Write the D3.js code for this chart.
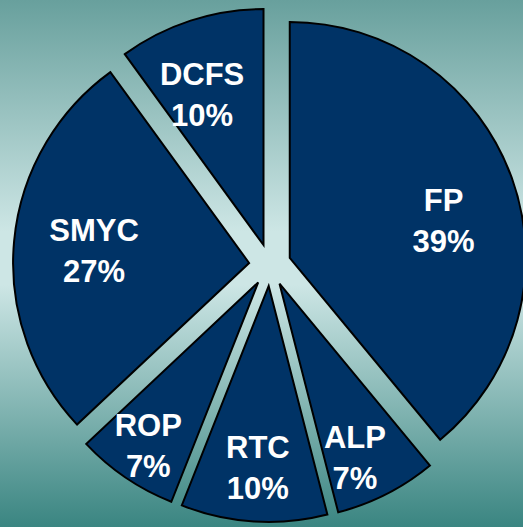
<!DOCTYPE html>
<html>
<head>
<meta charset="utf-8">
<script src="https://cdn.jsdelivr.net/npm/d3@7"></script>
<style>
  html, body { margin: 0; padding: 0; overflow: hidden; }
  svg { display: block; }
</style>
</head>
<body>
<div id="vis"></div>
<script>
// Dados do gráfico (ordem horária a partir das 12h)
const categories = ["FP", "ALP", "RTC", "ROP", "SMYC", "DCFS"];
const values = [39, 7, 10, 7, 27, 10];
const pctLabels = ["39%", "7%", "10%", "7%", "27%", "10%"];

// Tamanho
const width = 523, height = 527;
const cx = 270, cy = 265;
const radius = 236;
const explode = 21;
// posição dos rótulos por fatia: raio relativo e desvio angular (graus)
const labelRadius = [0.67, 0.805, 0.772, 0.835, 0.659, 0.686];
const labelShift = [6.3, 3.6, -0.2, -0.3, -1, -4.3];

const svg = d3.select("#vis")
  .append("svg")
  .attr("width", width)
  .attr("height", height);

// Fundo em gradiente
const defs = svg.append("defs");
const grad = defs.append("linearGradient")
  .attr("id", "bg")
  .attr("x1", 0).attr("y1", 0)
  .attr("x2", 0).attr("y2", 1);
grad.append("stop").attr("offset", "0%").attr("stop-color", "#68a09d");
grad.append("stop").attr("offset", "44%").attr("stop-color", "#cde6e5");
grad.append("stop").attr("offset", "54%").attr("stop-color", "#cde6e5");
grad.append("stop").attr("offset", "100%").attr("stop-color", "#3a8581");

svg.append("rect")
  .attr("width", width)
  .attr("height", height)
  .attr("fill", "url(#bg)");

const dataset = categories.map((c, i) => ({ category: c, value: values[i], pct: pctLabels[i], idx: i }));

const pie = d3.pie()
  .value(d => d.value)
  .sort(null);

const arc = d3.arc()
  .innerRadius(0)
  .outerRadius(radius);

const arcs = pie(dataset);

const g = svg.append("g")
  .attr("transform", `translate(${cx}, ${cy})`);

const slice = g.selectAll("g.slice")
  .data(arcs)
  .enter()
  .append("g")
  .attr("class", "slice")
  .attr("transform", d => {
    const a = (d.startAngle + d.endAngle) / 2;
    return `translate(${explode * Math.sin(a)}, ${-explode * Math.cos(a)})`;
  });

slice.append("path")
  .attr("d", arc)
  .attr("fill", "#003366")
  .attr("stroke", "#000")
  .attr("stroke-width", 2)
  .attr("stroke-linejoin", "miter");

const label = slice.append("text")
  .attr("transform", d => {
    const a = (d.startAngle + d.endAngle) / 2 + labelShift[d.data.idx] * Math.PI / 180;
    const r = radius * labelRadius[d.data.idx];
    return `translate(${r * Math.sin(a)}, ${-r * Math.cos(a)})`;
  })
  .attr("text-anchor", "middle")
  .attr("fill", "#fff")
  .attr("font-family", "'Liberation Sans', Arial, sans-serif")
  .attr("font-weight", "bold")
  .attr("font-size", 31);

label.append("tspan")
  .attr("x", 0)
  .attr("y", -10)
  .text(d => d.data.category);

label.append("tspan")
  .attr("x", 0)
  .attr("y", 31)
  .text(d => d.data.pct);
</script>
</body>
</html>
